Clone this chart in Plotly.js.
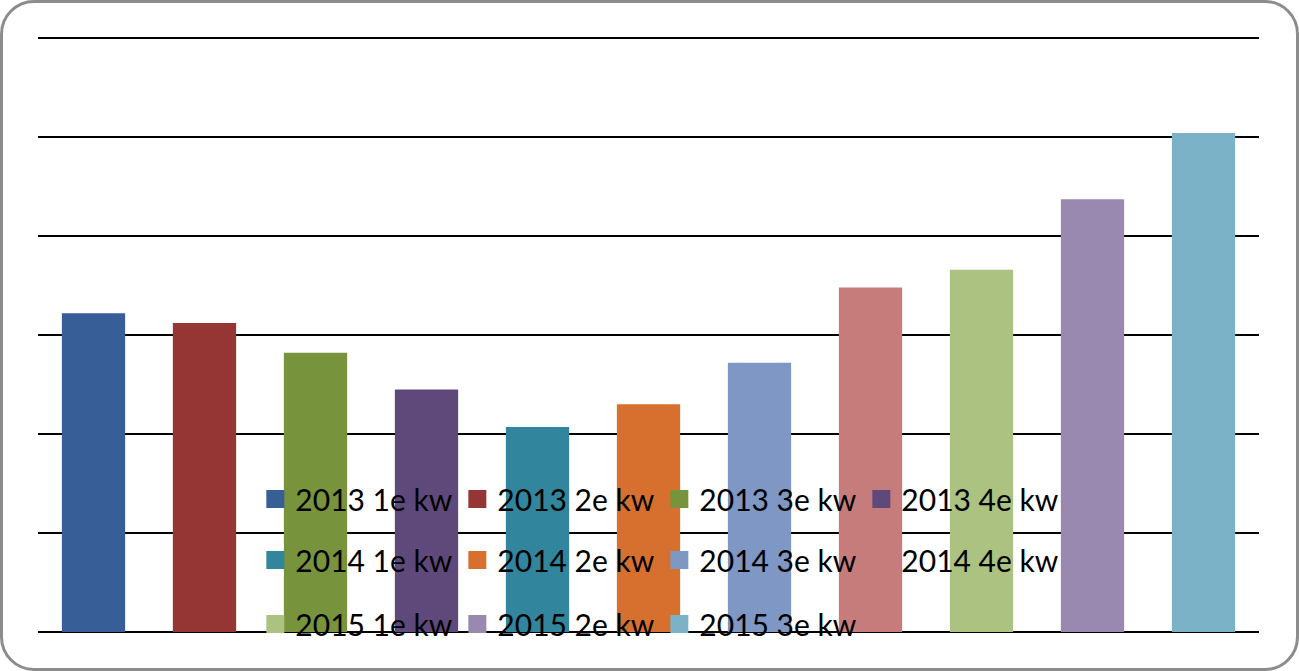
<!DOCTYPE html>
<html>
<head>
<meta charset="utf-8">
<script src="https://cdn.plot.ly/plotly-3.0.1.min.js"></script>
<style>
  html, body { margin: 0; padding: 0; background: #ffffff; }
  #frame { position: absolute; left: 0; top: 0; width: 1299px; height: 671px; box-sizing: border-box;
           border: 3px solid #8c8c8c; border-radius: 34px; background: #ffffff; overflow: hidden; }
  #chart { position: absolute; left: 0; top: 0; width: 1293px; height: 665px; }
  #chart .legendpoints path { d: path("M9,9H-9V-9H9Z"); }
</style>
</head>
<body>
<div id="frame"><div id="chart"></div></div>
<script>
// Data (units = gridline steps)
const category = ['kw'];
const seriesNames = ['2013 1e kw','2013 2e kw','2013 3e kw','2013 4e kw',
                     '2014 1e kw','2014 2e kw','2014 3e kw','2014 4e kw',
                     '2015 1e kw','2015 2e kw','2015 3e kw'];
const seriesValues = [3.22, 3.12, 2.82, 2.45, 2.07, 2.30, 2.72, 3.48, 3.66, 4.37, 5.04];
const seriesColors = ['#375E96','#963634','#77933C','#5F497A','#31859C','#D7702E',
                      '#7F97C5','#C77C7C','#ABC281','#9988AF','#7CB2C8'];
const legendRow = ['legend','legend','legend','legend','legend2','legend2','legend2','legend2',
                   'legend3','legend3','legend3'];

const traces = seriesNames.map((name, i) => ({
  type: 'bar',
  name: name,
  x: category,
  y: [seriesValues[i]],
  marker: { color: seriesColors[i], line: { width: 0 } },
  legend: legendRow[i],
  hoverinfo: 'name+y'
}));

// plot area: 599px tall, range 0..6.05 -> 99px per unit, baseline at page y 632
const legendFont = { family: 'Lato, "Open Sans", sans-serif', size: 30, color: '#000000' };
function legendAt(y) {
  return {
    orientation: 'h', x: 0.178, y: y, xanchor: 'left', yanchor: 'middle',
    bgcolor: 'rgba(0,0,0,0)', borderwidth: 0, font: legendFont,
    entrywidth: 157, entrywidthmode: 'pixels', traceorder: 'normal'
  };
}

const layout = {
  width: 1293, height: 665,
  margin: { l: 35, r: 37, t: 30, b: 36, pad: 0 },
  paper_bgcolor: 'rgba(0,0,0,0)', plot_bgcolor: 'rgba(0,0,0,0)',
  barmode: 'group', bargap: 0, bargroupgap: 0.43,
  showlegend: true,
  legend: legendAt(0.222),
  legend2: legendAt(0.120),
  legend3: legendAt(0.0134),
  xaxis: { showticklabels: false, showgrid: false, zeroline: false, showline: false, ticks: '' },
  yaxis: { range: [0, 6.05], tick0: 0, dtick: 1, showticklabels: false, ticks: '',
           showgrid: true, gridcolor: '#000000', gridwidth: 2,
           zeroline: true, zerolinecolor: '#000000', zerolinewidth: 2, showline: false },
  font: legendFont
};

Plotly.newPlot('chart', traces, layout, { displayModeBar: false, staticPlot: true });
</script>
</body>
</html>
